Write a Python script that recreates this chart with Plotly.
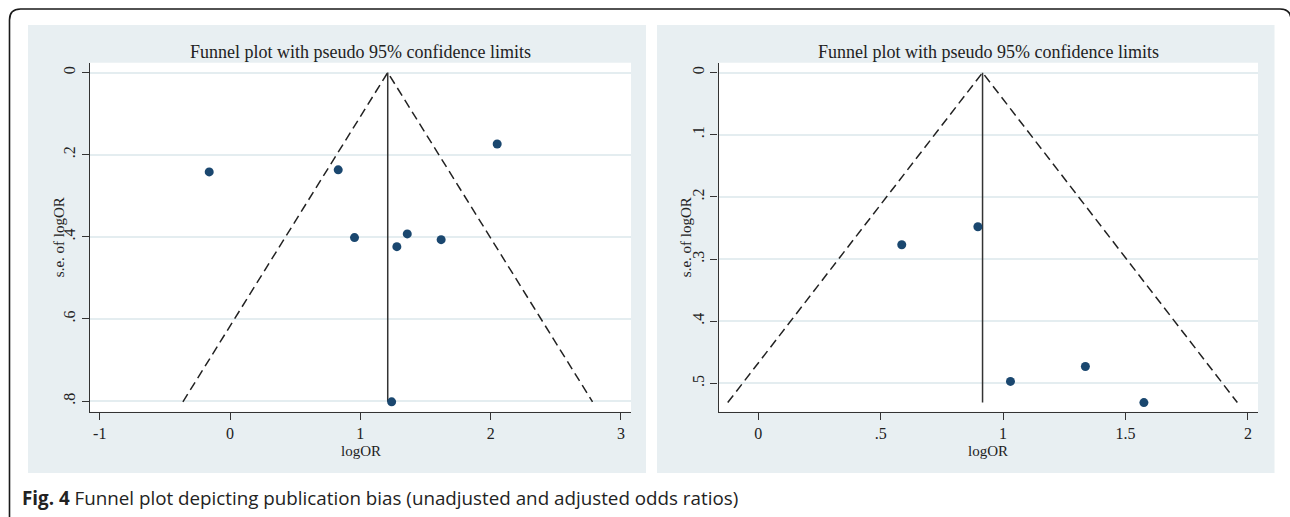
import plotly.graph_objects as go

# ---- data ----
left_logor = [-0.16, 0.83, 2.05, 0.955, 1.36, 1.62, 1.28, 1.24]
left_se = [0.242, 0.237, 0.174, 0.402, 0.393, 0.407, 0.424, 0.802]
left_pooled = 1.21

right_logor = [0.586, 0.897, 1.030, 1.336, 1.575]
right_se = [0.277, 0.248, 0.497, 0.473, 0.531]
right_pooled = 0.916

z95 = 1.96

left_xticks = [-1, 0, 1, 2, 3]
left_xtext = ["-1", "0", "1", "2", "3"]
left_yticks = [0, 0.2, 0.4, 0.6, 0.8]
left_ytext = ["0", ".2", ".4", ".6", ".8"]
right_xticks = [0, 0.5, 1, 1.5, 2]
right_xtext = ["0", ".5", "1", "1.5", "2"]
right_yticks = [0, 0.1, 0.2, 0.3, 0.4, 0.5]
right_ytext = ["0", ".1", ".2", ".3", ".4", ".5"]

title_text = "Funnel plot with pseudo 95% confidence limits"
xtitle = "logOR"
ytitle = "s.e. of logOR"
caption = "<b>Fig. 4</b> Funnel plot depicting publication bias (unadjusted and adjusted odds ratios)"

# ---- layout constants ----
W, H = 1290, 517
SERIF = "Liberation Serif"
MARK = "#1a476f"
PANEL = "#e8eff2"
GRID = "#e4edf0"
AX = "#333333"


def px(x):
    return x / W


def py(y):
    return 1 - y / H


fig = go.Figure()


def add_panel(logor, se, pooled, xa, ya):
    smax = max(se)
    # funnel limits
    fig.add_trace(go.Scatter(
        x=[pooled - z95 * smax, pooled, pooled + z95 * smax],
        y=[smax, 0, smax], mode="lines",
        line=dict(color="#222222", width=1.5, dash="9px,5px"),
        xaxis=xa, yaxis=ya, showlegend=False, hoverinfo="skip"))
    # pooled estimate
    fig.add_trace(go.Scatter(
        x=[pooled, pooled], y=[0, smax], mode="lines",
        line=dict(color="#333333", width=1.5),
        xaxis=xa, yaxis=ya, showlegend=False, hoverinfo="skip"))
    fig.add_trace(go.Scatter(
        x=logor, y=se, mode="markers",
        marker=dict(color=MARK, size=9),
        xaxis=xa, yaxis=ya, showlegend=False))


add_panel(left_logor, left_se, left_pooled, "x", "y")
add_panel(right_logor, right_se, right_pooled, "x2", "y2")

ydom = [py(411.7), py(62.7)]
Lx = [90, 631]
Rx = [718.6, 1258]

axis_common = dict(
    ticks="outside", ticklen=7, tickcolor=AX, tickwidth=1.2,
    showline=True, linecolor=AX, linewidth=1.3,
    zeroline=False, tickfont=dict(family=SERIF, size=16, color="#222222"),
    fixedrange=True,
)

fig.update_layout(
    width=W, height=H, margin=dict(l=0, r=0, t=0, b=0),
    paper_bgcolor="white", plot_bgcolor="white",
    xaxis=dict(domain=[px(Lx[0]), px(Lx[1])], range=[-1.075, 3.077], anchor="y",
               tickvals=left_xticks, ticktext=left_xtext, showgrid=False, **axis_common),
    yaxis=dict(domain=ydom, range=[0.826, -0.024], anchor="x",
               tickvals=left_yticks, ticktext=left_ytext, tickangle=-90,
               showgrid=True, gridcolor=GRID, gridwidth=1.5, **axis_common),
    xaxis2=dict(domain=[px(Rx[0]), px(Rx[1])], range=[-0.162, 2.041], anchor="y2",
                tickvals=right_xticks, ticktext=right_xtext, showgrid=False, **axis_common),
    yaxis2=dict(domain=ydom, range=[0.5457, -0.016], anchor="x2",
                tickvals=right_yticks, ticktext=right_ytext, tickangle=-90,
                showgrid=True, gridcolor=GRID, gridwidth=1.5, **axis_common),
)

shapes = []
# grey panels
for x0, x1 in [(28, 646), (657, 1274.5)]:
    shapes.append(dict(type="rect", xref="paper", yref="paper",
                       x0=px(x0), x1=px(x1), y0=py(473), y1=py(25),
                       fillcolor=PANEL, line=dict(width=0), layer="below"))
# white plot regions
for x0, x1 in [Lx, Rx]:
    shapes.append(dict(type="rect", xref="paper", yref="paper",
                       x0=px(x0), x1=px(x1), y0=py(411.7), y1=py(62.7),
                       fillcolor="white", line=dict(width=0), layer="below"))
# outer rounded frame
r = 11
xl, xr, yt = 9.5, 1291, 9
path = (f"M {px(xl)},{py(530)} L {px(xl)},{py(yt + r)} "
        f"Q {px(xl)},{py(yt)} {px(xl + r)},{py(yt)} "
        f"L {px(xr - r)},{py(yt)} Q {px(xr)},{py(yt)} {px(xr)},{py(yt + r)} "
        f"L {px(xr)},{py(530)}")
shapes.append(dict(type="path", xref="paper", yref="paper", path=path,
                   line=dict(color="#1a1a1a", width=1.6), layer="above"))
fig.update_layout(shapes=shapes)

ann = []
for cx in [(Lx[0] + Lx[1]) / 2, (Rx[0] + Rx[1]) / 2]:
    ann.append(dict(text=title_text, x=px(cx), y=py(51.7), xref="paper", yref="paper",
                    xanchor="center", yanchor="middle", showarrow=False,
                    font=dict(family=SERIF, size=18, color="#222222")))
    ann.append(dict(text=xtitle, x=px(cx), y=py(451), xref="paper", yref="paper",
                    xanchor="center", yanchor="middle", showarrow=False,
                    font=dict(family=SERIF, size=15, color="#222222")))
for tx in [59, 686]:
    ann.append(dict(text=ytitle, x=px(tx), y=py(237.2), xref="paper", yref="paper",
                    xanchor="center", yanchor="middle", showarrow=False, textangle=-90,
                    font=dict(family=SERIF, size=15, color="#222222")))
ann.append(dict(text=caption, x=px(20), y=py(498), xref="paper", yref="paper",
                xanchor="left", yanchor="middle", showarrow=False,
                font=dict(family="Open Sans", size=18.8, color="#222222")))
fig.update_layout(annotations=ann)

fig.write_html(
    "out.html",
    config={"displayModeBar": False},
    post_script="document.body.style.margin='0px';document.body.style.overflow='hidden';",
)
